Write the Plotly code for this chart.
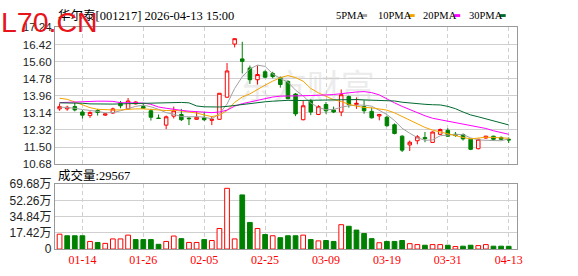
import plotly.graph_objects as go

W, H = 578, 276

dates = ["01-09", "01-12", "01-13", "01-14", "01-15", "01-16", "01-19", "01-20", "01-21", "01-22",
         "01-23", "01-26", "01-27", "01-28", "01-29", "01-30", "02-02", "02-03", "02-04", "02-05",
         "02-06", "02-09", "02-10", "02-11", "02-12", "02-13", "02-24", "02-25", "02-26", "02-27",
         "03-02", "03-03", "03-04", "03-05", "03-06", "03-09", "03-10", "03-11", "03-12", "03-13",
         "03-16", "03-17", "03-18", "03-19", "03-20", "03-23", "03-24", "03-25", "03-26", "03-27",
         "03-30", "03-31", "04-01", "04-02", "04-03", "04-07", "04-08", "04-09", "04-10", "04-13"]

opens = [13.33, 13.33, 13.44, 13.18, 13.01, 13.25, 13.03, 13.13, 13.60, 13.33,
         13.57, 13.44, 13.24, 12.89, 12.55, 12.98, 13.06, 12.89, 12.83, 12.90,
         12.78, 12.83, 13.89, 16.44, 15.73, 15.29, 14.73, 15.11, 15.03, 14.83,
         14.65, 14.04, 12.81, 13.71, 13.06, 13.54, 13.28, 13.18, 13.92, 13.54,
         13.44, 13.21, 12.99, 12.93, 12.57, 12.02, 11.60, 11.80, 11.96, 11.72,
         12.11, 12.30, 12.11, 12.10, 11.87, 11.42, 11.93, 12.02, 11.96, 11.87]
highs = [13.59, 13.48, 13.62, 13.28, 13.21, 13.33, 13.13, 13.39, 13.71, 13.85,
         13.69, 13.59, 13.33, 13.06, 13.01, 13.44, 13.33, 12.92, 13.21, 13.18,
         12.98, 14.08, 15.53, 16.70, 16.55, 15.41, 15.41, 15.18, 15.11, 14.88,
         14.70, 14.09, 13.71, 13.79, 13.51, 13.66, 13.44, 14.26, 13.97, 13.88,
         13.74, 13.39, 13.09, 13.01, 12.63, 12.07, 11.81, 12.07, 12.22, 12.25,
         12.39, 12.40, 12.22, 12.15, 11.89, 11.89, 12.04, 12.04, 12.01, 11.96]
lows = [13.24, 13.24, 13.21, 12.87, 12.90, 13.01, 12.99, 13.09, 13.36, 13.28,
        13.54, 13.33, 12.77, 12.86, 12.36, 12.87, 12.75, 12.55, 12.81, 12.75,
        12.55, 12.80, 13.86, 16.28, 15.03, 14.53, 14.50, 14.80, 14.80, 14.35,
        13.79, 12.98, 12.78, 13.03, 13.03, 13.09, 13.13, 12.98, 13.39, 13.33,
        13.10, 12.87, 12.78, 12.48, 12.11, 11.26, 11.31, 11.63, 11.73, 11.72,
        12.08, 11.99, 11.99, 11.81, 11.35, 11.39, 11.90, 11.81, 11.84, 11.69]
closes = [13.44, 13.41, 13.28, 13.03, 13.16, 13.16, 13.09, 13.33, 13.48, 13.71,
          13.66, 13.36, 12.93, 12.87, 12.95, 13.24, 12.81, 12.86, 12.93, 12.81,
          12.83, 14.08, 15.15, 16.70, 15.61, 14.73, 14.98, 14.85, 14.88, 14.50,
          13.82, 13.09, 13.48, 13.18, 13.44, 13.24, 13.18, 14.01, 13.54, 13.60,
          13.24, 12.90, 13.06, 12.52, 12.15, 11.35, 11.73, 11.99, 11.90, 12.22,
          12.34, 12.02, 12.05, 11.89, 11.39, 11.87, 12.02, 11.87, 11.87, 11.84]

ma5 = [13.42, 13.40, 13.36, 13.30, 13.26, 13.21, 13.14, 13.15, 13.24, 13.35,
       13.45, 13.51, 13.43, 13.31, 13.15, 13.07, 12.96, 12.95, 12.96, 12.93,
       12.85, 13.10, 13.56, 14.31, 14.87, 15.25, 15.43, 15.37, 15.01, 14.79,
       14.61, 14.23, 13.95, 13.61, 13.40, 13.29, 13.30, 13.41, 13.48, 13.51,
       13.51, 13.46, 13.27, 13.06, 12.77, 12.40, 12.16, 11.95, 11.82, 11.84,
       12.04, 12.09, 12.11, 12.10, 11.94, 11.84, 11.84, 11.81, 11.80, 11.89]
ma10 = [13.84, 13.79, 13.66, 13.51, 13.39, 13.31, 13.28, 13.28, 13.28, 13.31,
        13.33, 13.33, 13.29, 13.28, 13.25, 13.26, 13.23, 13.19, 13.13, 13.04,
        12.96, 13.03, 13.25, 13.64, 13.90, 14.05, 14.27, 14.47, 14.66, 14.83,
        14.93, 14.83, 14.66, 14.31, 14.10, 13.95, 13.77, 13.68, 13.55, 13.46,
        13.40, 13.38, 13.34, 13.27, 13.14, 12.96, 12.81, 12.61, 12.44, 12.31,
        12.22, 12.13, 12.03, 11.96, 11.89, 11.94, 11.97, 11.96, 11.95, 11.92]
ma20 = [13.63, 13.65, 13.66, 13.66, 13.69, 13.70, 13.70, 13.69, 13.63, 13.62,
        13.62, 13.61, 13.55, 13.42, 13.36, 13.30, 13.26, 13.22, 13.20, 13.18,
        13.15, 13.18, 13.27, 13.46, 13.58, 13.66, 13.75, 13.83, 13.90, 13.94,
        13.94, 13.93, 13.96, 13.97, 14.00, 14.00, 14.02, 14.07, 14.10, 14.14,
        14.16, 14.11, 14.00, 13.79, 13.62, 13.45, 13.29, 13.15, 13.00, 12.88,
        12.81, 12.75, 12.68, 12.62, 12.52, 12.45, 12.39, 12.28, 12.20, 12.11]
ma30 = [13.62, 13.62, 13.62, 13.60, 13.57, 13.56, 13.56, 13.56, 13.57, 13.58,
        13.59, 13.59, 13.58, 13.60, 13.62, 13.64, 13.64, 13.62, 13.47, 13.43,
        13.42, 13.42, 13.45, 13.50, 13.55, 13.59, 13.63, 13.67, 13.70, 13.73,
        13.74, 13.73, 13.74, 13.74, 13.75, 13.75, 13.76, 13.78, 13.78, 13.78,
        13.76, 13.75, 13.75, 13.74, 13.71, 13.65, 13.61, 13.59, 13.55, 13.53,
        13.52, 13.45, 13.34, 13.18, 13.04, 12.95, 12.85, 12.75, 12.65, 12.56]

# volume in units of 10,000 (万)
volumes = [16.0, 14.3, 14.3, 14.3, 8.2, 7.1, 6.1, 10.9, 10.9, 15.0,
           10.2, 10.2, 10.2, 5.1, 8.2, 14.0, 11.2, 7.1, 7.1, 10.2,
           9.2, 22.1, 65.3, 10.9, 58.2, 28.6, 22.1, 15.6, 14.3, 12.2,
           14.3, 14.3, 15.0, 10.2, 8.8, 9.2, 8.2, 26.2, 24.5, 20.4,
           16.7, 11.2, 6.8, 8.2, 8.2, 9.2, 5.8, 4.8, 4.1, 4.8,
           4.8, 4.1, 2.7, 3.1, 4.1, 3.7, 4.8, 3.1, 3.1, 2.9567]
vol_up = [1, 0, 0, 0, 1, 0, 1, 1, 1, 1,
          0, 0, 0, 0, 1, 1, 0, 1, 1, 0,
          1, 1, 1, 1, 0, 0, 1, 0, 1, 0,
          0, 0, 1, 0, 1, 0, 0, 1, 0, 0,
          0, 0, 1, 0, 0, 0, 1, 1, 0, 1,
          1, 0, 1, 0, 0, 1, 1, 0, 0, 0]

price_ticks = [10.68, 11.50, 12.32, 13.14, 13.96, 14.78, 15.60, 16.42, 17.24]
vol_ticks = [0, 17.42, 34.84, 52.26, 69.68]
vol_tick_text = ["0", "17.42万", "34.84万", "52.26万", "69.68万"]
x_tick_dates = ["01-14", "01-26", "02-05", "02-25", "03-09", "03-19", "03-31", "04-13"]

title_text = "华尔泰[001217] 2026-04-13 15:00"
vol_title = "成交量:29567"
ma_names = ["5PMA", "10PMA", "20PMA", "30PMA"]

RED = "#ff0000"
GREEN = "#008000"
MA_COLORS = ["#a0a0a0", "#f5a300", "#ff00ff", "#006a30"]
GRID = "#d0d0d0"
FRAME = "#999999"


def px(x):
    return x / W


def py(y):
    return 1 - y / H


X0, X1 = 55.5, 522.5
PT, PB = 21.5, 165.5
VT, VB = 186.7, 255.0

fig = go.Figure()

fig.add_trace(go.Candlestick(
    x=dates, open=opens, high=highs, low=lows, close=closes,
    increasing=dict(line=dict(color=RED, width=1), fillcolor="#ffffff"),
    decreasing=dict(line=dict(color=GREEN, width=1), fillcolor=GREEN),
    whiskerwidth=0, xaxis="x", yaxis="y", hoverinfo="skip",
))

for name, vals, col in zip(ma_names, [ma5, ma10, ma20, ma30], MA_COLORS):
    fig.add_trace(go.Scatter(x=dates, y=vals, mode="lines", name=name,
                             line=dict(color=col, width=1), xaxis="x", yaxis="y",
                             hoverinfo="skip"))

fig.add_trace(go.Bar(
    x=dates, y=volumes, xaxis="x2", yaxis="y2", width=0.62,
    marker=dict(color=["#ffffff" if u else GREEN for u in vol_up],
                line=dict(color=[RED if u else GREEN for u in vol_up], width=1)),
    hoverinfo="skip",
))

axis_common = dict(type="category", range=[-0.61, 60.1], showgrid=True, gridcolor=GRID,
                   griddash="4px,3px", gridwidth=1, tickvals=x_tick_dates, ticks="",
                   showline=True, mirror=True, linecolor=FRAME, linewidth=1, zeroline=False,
                   fixedrange=True)

fig.update_layout(
    width=W, height=H, margin=dict(l=0, r=0, t=0, b=0),
    paper_bgcolor="#ffffff", plot_bgcolor="#ffffff", showlegend=False,
    hovermode=False, boxgap=0.34,
    xaxis=dict(domain=[px(X0), px(X1)], anchor="y", showticklabels=False,
               rangeslider=dict(visible=False), **axis_common),
    xaxis2=dict(domain=[px(X0), px(X1)], anchor="y2", showticklabels=True,
                tickfont=dict(family="Liberation Serif", size=12, color=RED), **axis_common),
    yaxis=dict(domain=[py(PB), py(PT)], range=[10.68, 17.24], tickvals=price_ticks,
               ticktext=["%.2f" % v for v in price_ticks], showgrid=True, gridcolor=GRID,
               showline=True, mirror=True, linecolor=FRAME, zeroline=False, ticks="",
               tickfont=dict(family="Liberation Sans", size=11.5, color="#222222"),
               fixedrange=True),
    yaxis2=dict(domain=[py(VB), py(VT)], range=[0, 69.68], tickvals=vol_ticks,
                ticktext=vol_tick_text, showgrid=True, gridcolor=GRID,
                showline=True, mirror=True, linecolor=FRAME, zeroline=False, ticks="",
                tickfont=dict(family="Liberation Sans, Noto Sans CJK SC", size=12, color="#222222"),
                fixedrange=True),
)

annotations = [
    dict(text=title_text, x=px(57), y=py(9), xref="paper", yref="paper", xanchor="left",
         yanchor="middle", showarrow=False,
         font=dict(family="Liberation Serif, Noto Sans CJK SC", size=12.5, color="#000000")),
    dict(text=vol_title, x=px(57), y=py(177), xref="paper", yref="paper", xanchor="left",
         yanchor="middle", showarrow=False,
         font=dict(family="Liberation Serif, Noto Sans CJK SC", size=12.5, color="#000000")),
    dict(text="L70.CN", x=px(-1), y=py(15.5), xref="paper", yref="paper", xanchor="left",
         yanchor="middle", showarrow=False,
         font=dict(family="Liberation Sans", size=28.5, color="#e8141c")),
]

legend_x = [338, 380, 425, 472]
swatch_x = [365, 413, 459, 505]
shapes = []
for name, lx, sx, col in zip(ma_names, legend_x, swatch_x, MA_COLORS):
    annotations.append(dict(text=name, x=px(lx), y=py(9), xref="paper", yref="paper",
                            xanchor="left", yanchor="middle", showarrow=False,
                            font=dict(family="Liberation Serif", size=10.5, color="#000000")))
    shapes.append(dict(type="rect", xref="paper", yref="paper", x0=px(sx), x1=px(sx + 6),
                       y0=py(10.5), y1=py(7.5), fillcolor=col, line=dict(width=0)))

shapes.append(dict(type="rect", xref="paper", yref="paper", x0=px(235), x1=px(385),
                   y0=py(104), y1=py(70), fillcolor="rgba(0,0,0,0)", line=dict(width=0),
                   layer="below",
                   label=dict(text="东方财富", textposition="middle center",
                              font=dict(family="Noto Sans CJK SC", size=34, color="#ececec"))))

fig.update_layout(annotations=annotations, shapes=shapes)

fig.write_html("out.html")
